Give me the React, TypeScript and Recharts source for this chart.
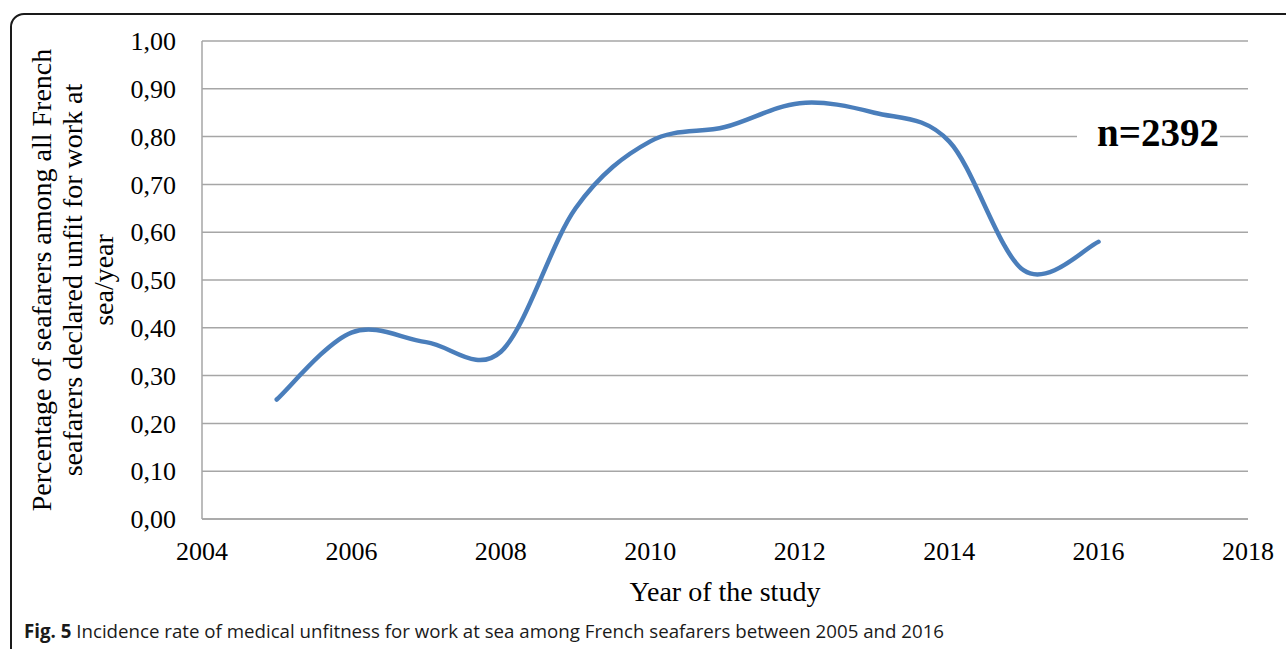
import React from 'react';
import { LineChart, Line, XAxis, YAxis, CartesianGrid, Label } from 'recharts';

// values (share of seafarers declared unfit, per year)
const years = [2005, 2006, 2007, 2008, 2009, 2010, 2011, 2012, 2013, 2014, 2015, 2016];
const rates = [0.25, 0.39, 0.37, 0.35, 0.65, 0.79, 0.82, 0.87, 0.85, 0.79, 0.52, 0.58];
const xTicks = [2004, 2006, 2008, 2010, 2012, 2014, 2016, 2018];
const yTicks = [0, 0.1, 0.2, 0.3, 0.4, 0.5, 0.6, 0.7, 0.8, 0.9, 1.0];
const yLabelLines = ['Percentage of seafarers among all French', 'seafarers declared unfit for work at', 'sea/year'];

const data = years.map((year, i) => ({ year, rate: rates[i] }));

const serif = '"Liberation Serif", "Times New Roman", serif';

// Excel-style smoothed line (Catmull-Rom through every point)
const excelCurve = (context: any) => {
  let pts: number[][] = [];
  return {
    areaStart() {},
    areaEnd() {},
    lineStart() {
      pts = [];
    },
    point(x: number, y: number) {
      pts.push([+x, +y]);
    },
    lineEnd() {
      if (!pts.length) return;
      context.moveTo(pts[0][0], pts[0][1]);
      for (let i = 0; i < pts.length - 1; i++) {
        const p0 = pts[Math.max(i - 1, 0)];
        const p1 = pts[i];
        const p2 = pts[i + 1];
        const p3 = pts[Math.min(i + 2, pts.length - 1)];
        context.bezierCurveTo(
          p1[0] + (p2[0] - p0[0]) / 6, p1[1] + (p2[1] - p0[1]) / 6,
          p2[0] - (p3[0] - p1[0]) / 6, p2[1] - (p3[1] - p1[1]) / 6,
          p2[0], p2[1]
        );
      }
    }
  };
};

const YLabel = ({ viewBox }: any) => {
  const cy = viewBox.y + viewBox.height / 2;
  const xs = [41, 72, 103];
  return <g>
      {yLabelLines.map((line, i) => <text key={i} x={xs[i]} y={cy} transform={`rotate(-90, ${xs[i]}, ${cy})`} textAnchor="middle" dominantBaseline="central" style={{
      fontFamily: serif,
      fontSize: 28,
      fill: '#000'
    }}>
          {line}
        </text>)}
    </g>;
};

export default function App() {
  return <div style={{
    position: 'absolute',
    left: 0,
    top: 0,
    width: 1286,
    height: 649,
    background: '#fff',
    overflow: 'hidden'
  }}>
      <div style={{
      position: 'absolute',
      left: 10,
      top: 13,
      width: 1300,
      height: 660,
      border: '2px solid #1a1a1a',
      borderRadius: 14,
      boxSizing: 'border-box'
    }} />
      <div style={{
      position: 'absolute',
      left: 0,
      top: 0
    }}>
        <LineChart width={1286} height={649} data={data} margin={{
        top: 41,
        right: 38,
        left: 0,
        bottom: 0
      }}>
          <CartesianGrid vertical={false} stroke="#a6a6a6" strokeWidth={1.5} />
          <XAxis dataKey="year" type="number" domain={[2004, 2018]} ticks={xTicks} height={130} axisLine={{
          stroke: '#a6a6a6',
          strokeWidth: 1.5
        }} tickLine={false} tickSize={6} tickMargin={17} tick={{
          fontFamily: serif,
          fontSize: 26,
          fill: '#000'
        }}>
            <Label value="Year of the study" position="insideTop" offset={62} style={{
            fontFamily: serif,
            fontSize: 28,
            fill: '#000'
          }} />
          </XAxis>
          <YAxis type="number" domain={[0, 1]} ticks={yTicks} width={202} axisLine={{
          stroke: '#a6a6a6',
          strokeWidth: 1.5
        }} tickLine={false} tickSize={6} tickMargin={20} tickFormatter={(v: number) => v.toFixed(2).replace('.', ',')} tick={{
          fontFamily: serif,
          fontSize: 26,
          fill: '#000'
        }}>
            <Label content={<YLabel />} />
          </YAxis>
          <Line dataKey="rate" type={excelCurve as any} stroke="#4a7ebb" strokeWidth={4.5} strokeLinecap="round" dot={false} activeDot={false} isAnimationActive={false} />
        </LineChart>
      </div>
      <div style={{
      position: 'absolute',
      left: 1077,
      top: 110,
      width: 143,
      height: 44,
      background: '#fff',
      display: 'flex',
      alignItems: 'center',
      justifyContent: 'flex-end',
      paddingRight: 1,
      boxSizing: 'border-box',
      fontFamily: serif,
      fontWeight: 'bold',
      fontSize: 39,
      color: '#000',
      lineHeight: 1
    }}>
        n=2392
      </div>
      <div style={{
      position: 'absolute',
      left: 24,
      top: 618,
      fontFamily: '"Open Sans", sans-serif',
      fontSize: 18.7,
      color: '#1a1a1a',
      whiteSpace: 'nowrap'
    }}>
        <b>Fig. 5</b> Incidence rate of medical unfitness for work at sea among French seafarers between 2005 and 2016
      </div>
    </div>;
}
